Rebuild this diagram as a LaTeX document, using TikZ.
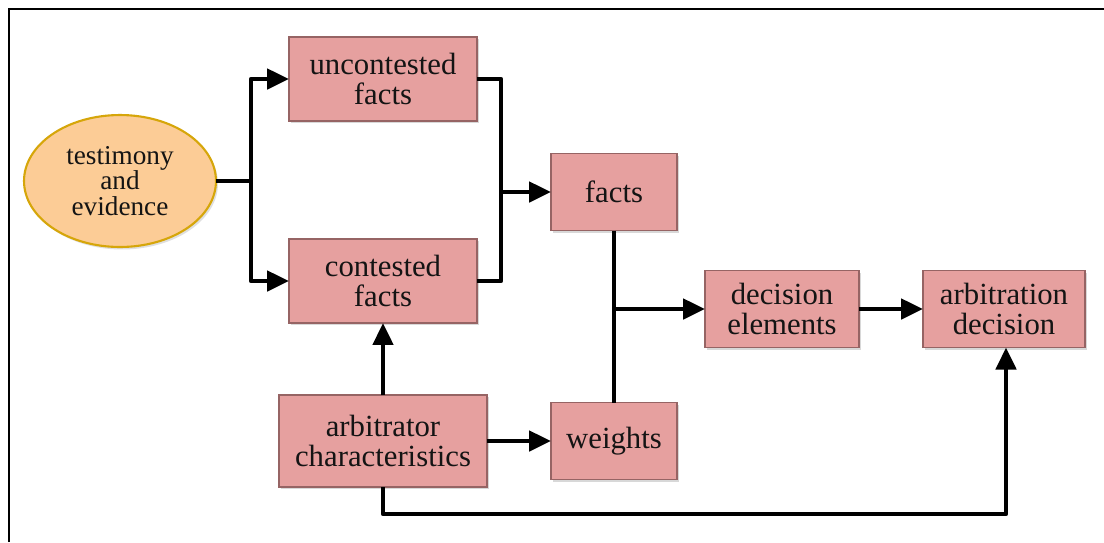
\documentclass[tikz,border=0pt]{standalone}
\usepackage{fontspec}
\setmainfont{Liberation Serif}
\usetikzlibrary{arrows.meta,shapes.geometric,shadows}
\definecolor{boxfill}{RGB}{230,160,159}
\definecolor{boxline}{RGB}{150,100,100}
\definecolor{ovalfill}{RGB}{252,204,150}
\definecolor{ovalline}{RGB}{214,166,10}
\definecolor{ink}{RGB}{20,20,20}
\begin{document}
\begin{tikzpicture}[x=0.02cm,y=-0.02cm,
  box/.style={rectangle,draw=boxline,fill=boxfill,line width=0.8pt,
    inner sep=0pt,outer sep=0pt,align=center,text=ink,
    font=\fontsize{17.5}{17}\selectfont,
    drop shadow={opacity=0.3,shadow xshift=0.04cm,shadow yshift=-0.04cm}},
  oval/.style={ellipse,draw=ovalline,fill=ovalfill,line width=1.2pt,
    inner sep=0pt,outer sep=0pt,align=center,text=ink,
    minimum width=3.84cm,minimum height=2.64cm,
    font=\fontsize{15.5}{14.7}\selectfont,
    drop shadow={opacity=0.25,shadow xshift=0.04cm,shadow yshift=-0.05cm}},
  link/.style={line width=2.7pt,line join=round,draw=black},
  arr/.style={link,-{Triangle[length=0.44cm,width=0.4cm]}}]

\useasboundingbox (0,0) rectangle (1104,542);
\fill[white] (0,0) rectangle (1104,542);
% frame edges
\draw[line width=1.4pt] (9,542) -- (9,9) -- (1104,9);

% nodes
\node[oval] (ev) at (120,181) {testimony\\and\\evidence};
\node[box,minimum width=3.76cm,minimum height=1.68cm] (unc) at (383,79) {uncontested\\facts};
\node[box,minimum width=3.76cm,minimum height=1.68cm] (con) at (383,281) {contested\\facts};
\node[box,minimum width=2.52cm,minimum height=1.54cm] (facts) at (614,192) {facts};
\node[box,minimum width=3.08cm,minimum height=1.54cm] (dec) at (782,309) {decision\\elements};
\node[box,minimum width=3.24cm,minimum height=1.54cm] (arb) at (1004,309) {arbitration\\decision};
\node[box,minimum width=4.16cm,minimum height=1.84cm] (char) at (383,441) {arbitrator\\characteristics};
\node[box,minimum width=2.52cm,minimum height=1.54cm] (wts) at (614,441) {weights};

% junction points
\coordinate (split) at (251,181);
\coordinate (merge) at (501,192);
\coordinate (low) at (383,514);

% connectors
\draw[link] (ev.east) -- (split);
\draw[arr] (split) |- (unc.west);
\draw[arr] (split) |- (con.west);
\draw[link] (unc.east) -| (merge) |- (con.east);
\draw[arr] (merge) -- (facts.west);
\draw[link] (facts.south) -- (wts.north);
\draw[arr] (facts.south |- dec.west) -- (dec.west);
\draw[arr] (dec.east) -- (arb.west);
\draw[arr] (char.north) -- (con.south);
\draw[arr] (char.east) -- (wts.west);
\draw[arr] (char.south) -- (low) -| ([xshift=0.04cm]arb.south);
\end{tikzpicture}
\end{document}
